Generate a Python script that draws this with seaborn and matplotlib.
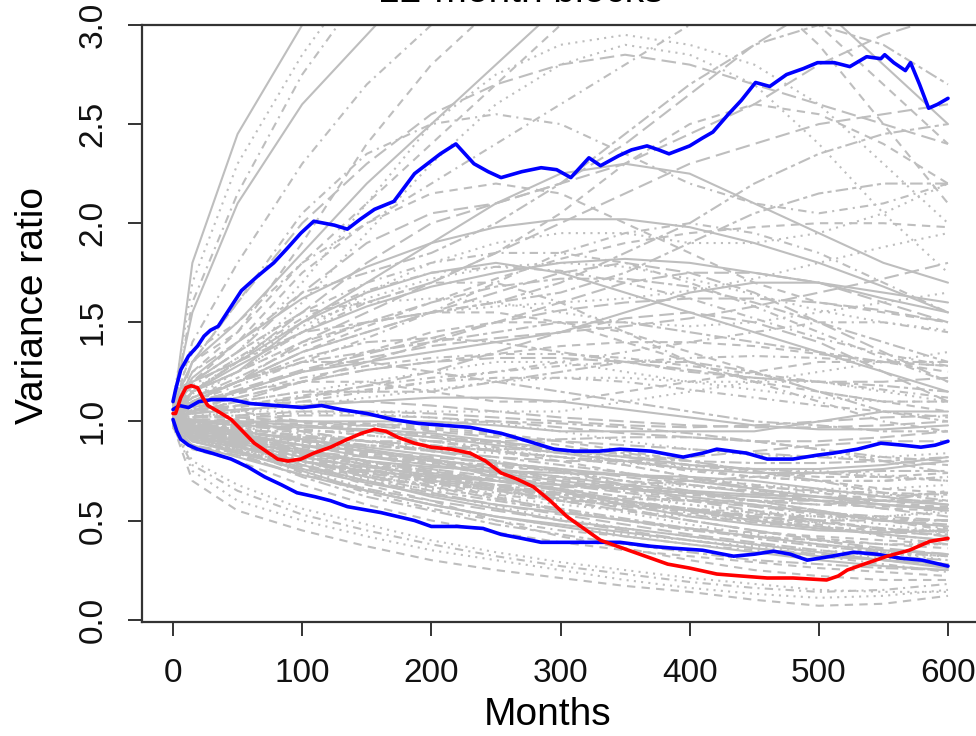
import matplotlib
matplotlib.use("Agg")
import matplotlib.pyplot as plt
import seaborn as sns
import pandas as pd

sns.set_theme(style="white")
plt.rcParams["font.family"] = ["Liberation Sans", "DejaVu Sans"]

# ---------------- data ----------------
title = "12-month blocks"
x_label = "Months"
y_label = "Variance ratio"
x_ticks = [0, 100, 200, 300, 400, 500, 600]
y_ticks = [0.0, 0.5, 1.0, 1.5, 2.0, 2.5, 3.0]
y_tick_labels = ["0.0", "0.5", "1.0", "1.5", "2.0", "2.5", "3.0"]

# simulated paths (gray), values at these months
grid_months = [0, 15, 50, 100, 150, 200, 250, 300, 350, 400, 450, 500, 550, 600]

upper_paths = [
    [1.05, 1.8, 2.45, 3.0, 3.4, 3.5, 3.5, 3.5, 3.5, 3.5, 3.5, 3.5, 3.5, 3.5],
    [1.08, 1.3, 1.45, 1.9, 2.4, 2.8, 3.1, 3.3, 3.4, 3.3, 3.2, 3.0, 2.7, 2.4],
    [1.02, 1.2, 1.35, 1.7, 2.1, 2.5, 2.75, 2.9, 2.95, 2.9, 2.8, 2.6, 2.3, 2.0],
    [1.1, 1.35, 1.5, 1.8, 2.0, 2.2, 2.4, 2.6, 2.8, 3.0, 3.2, 3.3, 3.3, 3.2],
    [1.0, 1.15, 1.3, 1.55, 1.8, 2.0, 2.1, 2.2, 2.3, 2.45, 2.6, 2.8, 2.95, 3.05],
    [1.06, 1.25, 1.4, 1.65, 1.75, 1.85, 2.0, 2.2, 2.45, 2.7, 2.9, 3.0, 2.9, 2.7],
    [1.03, 1.15, 1.25, 1.5, 1.7, 1.9, 2.1, 2.25, 2.3, 2.25, 2.1, 1.95, 1.8, 1.7],
    [1.04, 1.2, 1.35, 1.55, 1.6, 1.7, 1.85, 2.05, 2.3, 2.5, 2.6, 2.55, 2.4, 2.2],
    [1.0, 1.15, 1.3, 1.6, 1.95, 2.3, 2.6, 2.8, 2.9, 2.85, 2.7, 2.4, 2.05, 1.75],
    [1.07, 1.3, 1.6, 2.05, 2.35, 2.5, 2.55, 2.5, 2.35, 2.2, 2.1, 2.05, 2.1, 2.2],
    [1.02, 1.1, 1.2, 1.4, 1.55, 1.7, 1.85, 2.0, 2.15, 2.3, 2.4, 2.5, 2.55, 2.6],
    [1.05, 1.15, 1.3, 1.45, 1.5, 1.55, 1.6, 1.7, 1.85, 2.0, 2.2, 2.35, 2.45, 2.5],
    [1.09, 1.55, 2.1, 2.6, 2.95, 3.3, 3.5, 3.5, 3.5, 3.5, 3.5, 3.5, 3.5, 3.5],
    [1.03, 1.2, 1.4, 1.75, 2.0, 2.15, 2.2, 2.15, 2.0, 1.85, 1.7, 1.6, 1.55, 1.5],
    [1.01, 1.12, 1.25, 1.45, 1.65, 1.8, 1.9, 1.95, 1.95, 1.9, 1.9, 1.95, 2.05, 2.2],
    [1.06, 1.6, 2.15, 2.75, 3.2, 3.5, 3.5, 3.5, 3.5, 3.5, 3.5, 3.5, 3.5, 3.5],
    [1.04, 1.2, 1.35, 1.65, 1.9, 2.05, 2.1, 2.2, 2.4, 2.65, 2.9, 3.1, 3.2, 3.2],
    [1.0, 1.1, 1.2, 1.35, 1.45, 1.55, 1.6, 1.65, 1.75, 1.9, 2.05, 2.15, 2.2, 2.2],
    [1.08, 1.3, 1.5, 1.85, 2.2, 2.5, 2.8, 3.1, 3.3, 3.4, 3.3, 3.1, 2.8, 2.5],
    [1.05, 1.25, 1.45, 1.8, 2.1, 2.4, 2.7, 3.0, 3.2, 3.3, 3.2, 2.9, 2.5, 2.1],
    [1.1, 1.7, 2.3, 2.85, 3.3, 3.5, 3.5, 3.5, 3.5, 3.5, 3.5, 3.5, 3.5, 3.5],
    [1.04, 1.4, 1.8, 2.3, 2.7, 3.0, 3.2, 3.3, 3.4, 3.5, 3.5, 3.5, 3.5, 3.5],
    [1.02, 1.3, 1.6, 2.0, 2.3, 2.55, 2.7, 2.8, 2.85, 2.8, 2.7, 2.6, 2.5, 2.4],
]

middle_paths = [
    [1.02, 1.1, 1.2, 1.3, 1.35, 1.4, 1.45, 1.5, 1.5, 1.45, 1.4, 1.35, 1.3, 1.3],
    [1.0, 1.08, 1.15, 1.25, 1.3, 1.35, 1.4, 1.45, 1.55, 1.65, 1.7, 1.7, 1.65, 1.6],
    [1.05, 1.15, 1.25, 1.4, 1.5, 1.55, 1.55, 1.5, 1.4, 1.3, 1.2, 1.15, 1.1, 1.1],
    [1.03, 1.06, 1.1, 1.15, 1.2, 1.25, 1.3, 1.3, 1.25, 1.2, 1.2, 1.25, 1.3, 1.35],
    [0.98, 1.02, 1.05, 1.1, 1.15, 1.2, 1.25, 1.3, 1.35, 1.4, 1.45, 1.5, 1.5, 1.45],
    [1.04, 1.12, 1.2, 1.35, 1.45, 1.55, 1.65, 1.75, 1.8, 1.75, 1.65, 1.5, 1.35, 1.2],
    [1.0, 1.05, 1.1, 1.15, 1.15, 1.15, 1.2, 1.25, 1.3, 1.3, 1.25, 1.15, 1.05, 1.0],
    [1.06, 1.2, 1.3, 1.5, 1.65, 1.75, 1.8, 1.75, 1.65, 1.55, 1.45, 1.35, 1.25, 1.15],
    [1.02, 1.1, 1.15, 1.2, 1.2, 1.15, 1.1, 1.1, 1.15, 1.2, 1.25, 1.3, 1.3, 1.25],
    [0.99, 1.02, 1.05, 1.05, 1.05, 1.05, 1.05, 1.05, 1.1, 1.15, 1.2, 1.2, 1.15, 1.1],
    [1.03, 1.15, 1.25, 1.45, 1.6, 1.7, 1.7, 1.6, 1.45, 1.3, 1.2, 1.1, 1.0, 0.95],
    [1.01, 1.05, 1.1, 1.2, 1.3, 1.4, 1.5, 1.6, 1.7, 1.75, 1.75, 1.7, 1.6, 1.5],
    [1.05, 1.12, 1.2, 1.3, 1.3, 1.25, 1.2, 1.15, 1.1, 1.05, 1.0, 0.98, 0.95, 0.95],
    [1.0, 1.0, 1.0, 1.0, 1.0, 1.0, 0.98, 0.95, 0.95, 0.95, 0.95, 1.0, 1.05, 1.05],
    [1.04, 1.1, 1.15, 1.25, 1.35, 1.45, 1.5, 1.5, 1.45, 1.35, 1.25, 1.15, 1.1, 1.05],
    [1.03, 1.18, 1.32, 1.5, 1.6, 1.62, 1.6, 1.55, 1.5, 1.48, 1.5, 1.55, 1.6, 1.65],
    [1.01, 1.1, 1.18, 1.3, 1.42, 1.55, 1.7, 1.85, 1.95, 2.0, 1.95, 1.85, 1.7, 1.55],
    [0.99, 1.04, 1.08, 1.12, 1.18, 1.25, 1.35, 1.45, 1.52, 1.55, 1.5, 1.4, 1.25, 1.1],
]

band_paths = [
    [1.02, 1.12, 1.22, 1.38, 1.5, 1.6, 1.68, 1.72, 1.72, 1.68, 1.6, 1.5, 1.4, 1.3],
    [1.04, 1.15, 1.28, 1.45, 1.58, 1.68, 1.75, 1.8, 1.82, 1.8, 1.75, 1.7, 1.62, 1.55],
    [1.0, 1.1, 1.2, 1.35, 1.48, 1.6, 1.72, 1.82, 1.9, 1.95, 1.98, 2.0, 2.0, 1.98],
    [1.03, 1.14, 1.25, 1.4, 1.5, 1.55, 1.58, 1.6, 1.62, 1.66, 1.72, 1.8, 1.88, 1.95],
    [1.05, 1.2, 1.35, 1.55, 1.7, 1.8, 1.85, 1.85, 1.8, 1.7, 1.58, 1.45, 1.32, 1.2],
    [1.01, 1.08, 1.15, 1.25, 1.32, 1.38, 1.42, 1.45, 1.48, 1.52, 1.58, 1.65, 1.72, 1.8],
    [1.02, 1.1, 1.2, 1.32, 1.4, 1.42, 1.4, 1.35, 1.3, 1.25, 1.22, 1.2, 1.18, 1.15],
    [1.06, 1.22, 1.4, 1.62, 1.78, 1.9, 1.98, 2.02, 2.02, 1.98, 1.9, 1.8, 1.68, 1.55],
    [1.0, 1.06, 1.12, 1.2, 1.26, 1.3, 1.34, 1.38, 1.4, 1.4, 1.38, 1.34, 1.3, 1.28],
    [1.03, 1.16, 1.3, 1.48, 1.62, 1.72, 1.78, 1.8, 1.78, 1.72, 1.64, 1.56, 1.5, 1.46],
    [1.04, 1.18, 1.32, 1.52, 1.66, 1.75, 1.78, 1.76, 1.7, 1.62, 1.52, 1.42, 1.34, 1.28],
    [1.02, 1.09, 1.16, 1.26, 1.34, 1.42, 1.5, 1.56, 1.6, 1.62, 1.62, 1.6, 1.56, 1.5],
]

central_paths = [
    [1.0, 0.96, 0.93, 0.9, 0.88, 0.85, 0.82, 0.78, 0.74, 0.7, 0.67, 0.65, 0.64, 0.63],
    [1.02, 1.0, 0.98, 0.97, 0.96, 0.94, 0.9, 0.86, 0.82, 0.78, 0.76, 0.76, 0.78, 0.82],
    [0.99, 0.95, 0.92, 0.88, 0.84, 0.8, 0.77, 0.75, 0.73, 0.71, 0.68, 0.64, 0.6, 0.56],
    [1.01, 0.97, 0.94, 0.89, 0.85, 0.81, 0.76, 0.7, 0.64, 0.58, 0.54, 0.52, 0.52, 0.54],
    [1.0, 0.93, 0.89, 0.83, 0.78, 0.74, 0.71, 0.68, 0.65, 0.61, 0.57, 0.53, 0.5, 0.5],
    [1.03, 1.02, 1.02, 1.03, 1.03, 1.02, 1.0, 0.97, 0.94, 0.92, 0.9, 0.9, 0.92, 0.95],
    [1.0, 0.98, 0.97, 0.97, 0.98, 0.99, 1.0, 0.99, 0.97, 0.94, 0.9, 0.86, 0.82, 0.8],
    [1.02, 1.04, 1.06, 1.08, 1.1, 1.12, 1.12, 1.1, 1.06, 1.02, 0.98, 0.96, 0.96, 0.98],
    [0.98, 0.94, 0.91, 0.87, 0.83, 0.79, 0.75, 0.71, 0.67, 0.63, 0.6, 0.58, 0.57, 0.57],
    [1.01, 0.99, 0.98, 0.96, 0.93, 0.9, 0.86, 0.82, 0.79, 0.77, 0.76, 0.75, 0.73, 0.7],
    [1.0, 0.95, 0.91, 0.85, 0.79, 0.73, 0.67, 0.62, 0.58, 0.55, 0.53, 0.52, 0.51, 0.5],
    [1.04, 1.06, 1.08, 1.1, 1.1, 1.08, 1.05, 1.02, 1.0, 0.98, 0.97, 0.97, 0.98, 1.0],
    [0.99, 0.93, 0.89, 0.82, 0.76, 0.71, 0.67, 0.63, 0.59, 0.55, 0.51, 0.47, 0.43, 0.4],
    [1.0, 0.97, 0.95, 0.91, 0.87, 0.83, 0.79, 0.76, 0.73, 0.7, 0.66, 0.62, 0.58, 0.56],
    [1.02, 1.01, 1.01, 1.0, 0.99, 0.97, 0.94, 0.9, 0.85, 0.8, 0.75, 0.7, 0.66, 0.64],
    [1.01, 1.03, 1.05, 1.08, 1.12, 1.16, 1.2, 1.22, 1.22, 1.2, 1.16, 1.12, 1.1, 1.1],
    [1.0, 1.04, 1.07, 1.12, 1.16, 1.2, 1.22, 1.22, 1.2, 1.16, 1.12, 1.08, 1.05, 1.02],
    [1.03, 1.07, 1.12, 1.2, 1.26, 1.3, 1.32, 1.32, 1.3, 1.26, 1.22, 1.2, 1.2, 1.22],
    [0.99, 0.96, 0.94, 0.92, 0.9, 0.9, 0.9, 0.91, 0.92, 0.92, 0.9, 0.86, 0.8, 0.74],
    [1.0, 0.94, 0.9, 0.84, 0.8, 0.77, 0.75, 0.74, 0.73, 0.72, 0.7, 0.66, 0.62, 0.58],
    [0.98, 0.9, 0.85, 0.78, 0.72, 0.67, 0.63, 0.6, 0.58, 0.56, 0.54, 0.5, 0.46, 0.42],
    [1.01, 0.96, 0.92, 0.86, 0.8, 0.75, 0.7, 0.66, 0.62, 0.58, 0.55, 0.52, 0.48, 0.44],
    [1.02, 1.05, 1.08, 1.13, 1.18, 1.22, 1.25, 1.28, 1.3, 1.32, 1.33, 1.32, 1.3, 1.28],
    [1.0, 1.02, 1.03, 1.05, 1.05, 1.04, 1.02, 1.0, 0.98, 0.97, 0.98, 1.0, 1.02, 1.03],
    [0.99, 0.92, 0.87, 0.8, 0.74, 0.69, 0.65, 0.61, 0.57, 0.53, 0.49, 0.46, 0.44, 0.43],
    [1.01, 0.98, 0.95, 0.91, 0.86, 0.81, 0.76, 0.72, 0.68, 0.65, 0.63, 0.62, 0.6, 0.58],
    [1.0, 0.99, 0.99, 0.99, 0.98, 0.96, 0.93, 0.88, 0.83, 0.78, 0.74, 0.72, 0.72, 0.74],
    [0.98, 0.91, 0.86, 0.79, 0.73, 0.68, 0.64, 0.61, 0.58, 0.55, 0.52, 0.49, 0.46, 0.44],
    [1.03, 1.08, 1.14, 1.22, 1.28, 1.32, 1.34, 1.34, 1.32, 1.28, 1.24, 1.2, 1.16, 1.12],
    [1.0, 0.95, 0.92, 0.88, 0.85, 0.82, 0.79, 0.76, 0.72, 0.68, 0.64, 0.6, 0.56, 0.52],
    [1.02, 1.0, 0.99, 0.98, 0.96, 0.93, 0.89, 0.85, 0.82, 0.8, 0.79, 0.79, 0.8, 0.82],
    [0.99, 0.9, 0.84, 0.76, 0.69, 0.63, 0.58, 0.54, 0.5, 0.46, 0.42, 0.38, 0.35, 0.33],
    [1.0, 0.96, 0.93, 0.88, 0.83, 0.78, 0.73, 0.69, 0.66, 0.64, 0.62, 0.6, 0.58, 0.57],
    [1.01, 1.02, 1.03, 1.04, 1.04, 1.02, 0.99, 0.95, 0.9, 0.86, 0.83, 0.82, 0.82, 0.84],
    [1.0, 0.93, 0.88, 0.81, 0.75, 0.7, 0.66, 0.62, 0.58, 0.54, 0.5, 0.47, 0.45, 0.45],
    [0.99, 0.9, 0.85, 0.77, 0.7, 0.64, 0.58, 0.53, 0.48, 0.43, 0.39, 0.35, 0.32, 0.3],
    [1.0, 0.92, 0.87, 0.8, 0.73, 0.67, 0.61, 0.56, 0.51, 0.46, 0.41, 0.37, 0.34, 0.32],
    [0.98, 0.88, 0.82, 0.73, 0.65, 0.58, 0.52, 0.47, 0.42, 0.38, 0.34, 0.3, 0.27, 0.25],
    [1.01, 0.95, 0.91, 0.84, 0.78, 0.72, 0.66, 0.6, 0.55, 0.5, 0.45, 0.41, 0.38, 0.36],
    [0.99, 0.91, 0.86, 0.78, 0.71, 0.64, 0.57, 0.51, 0.46, 0.42, 0.38, 0.35, 0.33, 0.32],
]

lower_paths = [
    [1.0, 0.97, 0.95, 0.9, 0.85, 0.8, 0.75, 0.72, 0.7, 0.68, 0.65, 0.62, 0.6, 0.6],
    [1.01, 0.96, 0.92, 0.85, 0.8, 0.75, 0.7, 0.65, 0.6, 0.55, 0.52, 0.5, 0.5, 0.5],
    [0.99, 0.92, 0.88, 0.8, 0.72, 0.65, 0.6, 0.55, 0.5, 0.45, 0.42, 0.4, 0.38, 0.38],
    [1.0, 0.9, 0.85, 0.75, 0.65, 0.58, 0.52, 0.48, 0.44, 0.4, 0.36, 0.32, 0.3, 0.28],
    [1.02, 0.95, 0.9, 0.78, 0.68, 0.6, 0.5, 0.42, 0.36, 0.3, 0.25, 0.22, 0.2, 0.2],
    [0.98, 0.8, 0.68, 0.56, 0.48, 0.4, 0.34, 0.29, 0.25, 0.21, 0.18, 0.15, 0.14, 0.14],
    [1.0, 0.97, 0.95, 0.95, 0.95, 0.92, 0.9, 0.85, 0.8, 0.75, 0.72, 0.7, 0.7, 0.72],
    [1.03, 1.01, 1.0, 0.95, 0.9, 0.85, 0.82, 0.8, 0.8, 0.82, 0.85, 0.88, 0.9, 0.9],
    [0.99, 0.94, 0.9, 0.85, 0.82, 0.8, 0.78, 0.75, 0.7, 0.65, 0.6, 0.58, 0.6, 0.65],
    [1.0, 0.96, 0.93, 0.88, 0.85, 0.8, 0.72, 0.65, 0.58, 0.52, 0.48, 0.45, 0.44, 0.45],
    [1.01, 0.98, 0.96, 0.9, 0.83, 0.76, 0.7, 0.66, 0.62, 0.6, 0.58, 0.55, 0.5, 0.45],
    [0.98, 0.9, 0.86, 0.76, 0.7, 0.66, 0.62, 0.58, 0.55, 0.52, 0.5, 0.5, 0.52, 0.55],
    [1.0, 0.94, 0.9, 0.82, 0.75, 0.7, 0.65, 0.6, 0.55, 0.5, 0.45, 0.4, 0.35, 0.32],
    [1.02, 1.0, 0.98, 0.95, 0.9, 0.85, 0.8, 0.75, 0.68, 0.6, 0.55, 0.5, 0.45, 0.42],
    [0.97, 0.88, 0.84, 0.72, 0.62, 0.55, 0.48, 0.43, 0.38, 0.34, 0.3, 0.28, 0.26, 0.25],
    [1.0, 0.92, 0.88, 0.78, 0.7, 0.62, 0.56, 0.5, 0.46, 0.42, 0.38, 0.34, 0.3, 0.26],
    [1.04, 1.05, 1.05, 1.0, 0.95, 0.9, 0.85, 0.82, 0.78, 0.72, 0.66, 0.6, 0.56, 0.55],
    [1.01, 0.97, 0.95, 0.9, 0.88, 0.86, 0.84, 0.82, 0.78, 0.72, 0.68, 0.66, 0.66, 0.68],
    [0.99, 0.93, 0.9, 0.8, 0.72, 0.68, 0.66, 0.64, 0.6, 0.56, 0.52, 0.48, 0.42, 0.38],
    [1.0, 0.95, 0.92, 0.86, 0.8, 0.74, 0.68, 0.62, 0.56, 0.5, 0.45, 0.4, 0.36, 0.33],
    [1.02, 0.99, 0.97, 0.92, 0.88, 0.86, 0.86, 0.86, 0.84, 0.8, 0.75, 0.7, 0.64, 0.6],
    [0.98, 0.91, 0.87, 0.8, 0.75, 0.72, 0.7, 0.66, 0.6, 0.55, 0.5, 0.46, 0.43, 0.4],
    [1.0, 0.96, 0.94, 0.92, 0.9, 0.88, 0.85, 0.8, 0.74, 0.68, 0.64, 0.62, 0.62, 0.64],
    [1.01, 0.94, 0.9, 0.84, 0.78, 0.72, 0.66, 0.6, 0.54, 0.48, 0.43, 0.38, 0.34, 0.3],
    [0.99, 0.9, 0.86, 0.74, 0.64, 0.56, 0.5, 0.45, 0.42, 0.38, 0.35, 0.32, 0.28, 0.24],
    [1.03, 1.03, 1.02, 1.0, 0.98, 0.95, 0.92, 0.9, 0.88, 0.86, 0.84, 0.82, 0.8, 0.78],
    [1.0, 0.98, 0.96, 0.93, 0.9, 0.88, 0.85, 0.82, 0.8, 0.78, 0.76, 0.74, 0.72, 0.7],
    [0.98, 0.92, 0.89, 0.82, 0.77, 0.73, 0.7, 0.68, 0.66, 0.64, 0.62, 0.6, 0.58, 0.55],
    [1.01, 0.96, 0.93, 0.85, 0.78, 0.7, 0.62, 0.55, 0.5, 0.46, 0.44, 0.42, 0.4, 0.38],
    [1.0, 0.9, 0.87, 0.76, 0.66, 0.58, 0.52, 0.47, 0.43, 0.4, 0.37, 0.34, 0.31, 0.28],
    [1.02, 1.0, 0.99, 0.96, 0.93, 0.9, 0.87, 0.84, 0.8, 0.76, 0.72, 0.7, 0.7, 0.72],
    [0.97, 0.87, 0.83, 0.73, 0.66, 0.6, 0.55, 0.5, 0.45, 0.4, 0.36, 0.33, 0.3, 0.27],
    [1.0, 0.94, 0.91, 0.83, 0.76, 0.7, 0.66, 0.63, 0.61, 0.6, 0.6, 0.6, 0.6, 0.6],
    [1.01, 0.97, 0.94, 0.88, 0.82, 0.78, 0.74, 0.7, 0.66, 0.62, 0.58, 0.54, 0.5, 0.47],
    [0.99, 0.86, 0.8, 0.68, 0.58, 0.5, 0.44, 0.39, 0.35, 0.32, 0.29, 0.26, 0.24, 0.22],
    [1.0, 0.98, 0.97, 0.94, 0.9, 0.86, 0.8, 0.74, 0.7, 0.67, 0.65, 0.64, 0.63, 0.62],
    [1.02, 0.99, 0.96, 0.9, 0.85, 0.8, 0.76, 0.72, 0.68, 0.64, 0.6, 0.55, 0.5, 0.46],
    [0.98, 0.93, 0.9, 0.84, 0.8, 0.76, 0.72, 0.68, 0.64, 0.6, 0.57, 0.54, 0.52, 0.5],
    [1.0, 0.95, 0.92, 0.85, 0.78, 0.72, 0.68, 0.64, 0.6, 0.56, 0.52, 0.49, 0.46, 0.44],
    [1.01, 1.0, 1.0, 0.98, 0.95, 0.92, 0.88, 0.84, 0.8, 0.76, 0.74, 0.74, 0.76, 0.8],
    [0.98, 0.7, 0.55, 0.45, 0.37, 0.3, 0.25, 0.21, 0.17, 0.14, 0.1, 0.07, 0.08, 0.12],
    [0.99, 0.75, 0.6, 0.5, 0.42, 0.35, 0.3, 0.25, 0.2, 0.16, 0.13, 0.11, 0.12, 0.15],
    [0.97, 0.78, 0.65, 0.53, 0.45, 0.38, 0.32, 0.27, 0.23, 0.19, 0.16, 0.14, 0.15, 0.18],
    [1.0, 0.93, 0.88, 0.8, 0.74, 0.7, 0.68, 0.67, 0.66, 0.64, 0.6, 0.55, 0.5, 0.48],
    [1.02, 0.97, 0.93, 0.86, 0.8, 0.74, 0.7, 0.68, 0.68, 0.7, 0.72, 0.74, 0.75, 0.75],
]

# upper quantile (blue)
upper_m = [0, 2, 6, 12, 19, 24, 29, 35, 45, 53, 65, 78, 88, 99, 109, 117, 125, 135, 145, 156,
           171, 187, 197, 207, 219, 226, 233, 244, 254, 270, 285, 297, 308, 315, 322, 331, 345, 355, 367, 376,
           384, 400, 410, 418, 430, 440, 451, 462, 475, 488, 499, 512, 524, 537, 548, 551, 558, 567, 571, 578,
           585, 592, 600]
upper_v = [1.10, 1.16, 1.26, 1.33, 1.38, 1.43, 1.46, 1.48, 1.58, 1.66, 1.73, 1.80, 1.87, 1.95, 2.01, 2.00, 1.99, 1.97, 2.02, 2.07,
           2.11, 2.25, 2.30, 2.35, 2.40, 2.35, 2.30, 2.26, 2.23, 2.26, 2.28, 2.27, 2.23, 2.28, 2.33, 2.29, 2.34, 2.37, 2.39, 2.37,
           2.35, 2.39, 2.43, 2.46, 2.55, 2.62, 2.71, 2.69, 2.75, 2.78, 2.81, 2.81, 2.79, 2.84, 2.83, 2.85, 2.81, 2.77, 2.81, 2.70,
           2.58, 2.60, 2.63]

# median (blue)
median_m = [0, 5, 12, 20, 30, 45, 60, 80, 100, 115, 130, 150, 170, 190, 210, 230, 254, 275, 295, 310,
            330, 346, 370, 395, 410, 421, 444, 460, 480, 499, 511, 530, 548, 565, 579, 590, 600]
median_v = [1.06, 1.08, 1.07, 1.10, 1.11, 1.11, 1.09, 1.08, 1.07, 1.08, 1.06, 1.04, 1.01, 0.99, 0.98, 0.97, 0.94, 0.90, 0.86, 0.85,
            0.85, 0.86, 0.85, 0.82, 0.84, 0.86, 0.84, 0.81, 0.81, 0.83, 0.84, 0.86, 0.89, 0.88, 0.87, 0.88, 0.90]

# lower quantile (blue)
lower_m = [0, 3, 6, 12, 19, 30, 45, 58, 71, 84, 96, 110, 122, 135, 148, 161, 174, 187, 200, 220,
           240, 254, 270, 285, 300, 320, 346, 370, 388, 410, 434, 450, 465, 478, 491, 510, 527, 545, 563, 580, 600]
lower_v = [1.01, 0.95, 0.91, 0.88, 0.86, 0.84, 0.81, 0.77, 0.72, 0.68, 0.64, 0.62, 0.60, 0.57, 0.555, 0.54, 0.52, 0.50, 0.47, 0.47,
           0.46, 0.43, 0.41, 0.39, 0.39, 0.39, 0.39, 0.37, 0.36, 0.35, 0.32, 0.33, 0.345, 0.33, 0.30, 0.32, 0.34, 0.33, 0.31, 0.30, 0.27]

# actual (red)
actual_m = [0, 2, 6, 10, 14, 19, 23, 27, 35, 45, 54, 63, 72, 81, 89, 99, 109, 122, 135, 146,
            156, 165, 174, 187, 200, 215, 230, 242, 254, 266, 279, 292, 305, 318, 331, 344, 357, 370, 383, 400,
            421, 440, 460, 480, 506, 515, 522, 535, 553, 570, 586, 600]
actual_v = [1.04, 1.04, 1.12, 1.17, 1.18, 1.17, 1.12, 1.08, 1.05, 1.01, 0.95, 0.89, 0.85, 0.81, 0.80, 0.81, 0.84, 0.87, 0.91, 0.94,
            0.96, 0.95, 0.92, 0.89, 0.87, 0.86, 0.84, 0.80, 0.74, 0.71, 0.67, 0.60, 0.52, 0.46, 0.40, 0.37, 0.34, 0.31, 0.28, 0.26,
            0.23, 0.22, 0.21, 0.21, 0.20, 0.22, 0.25, 0.28, 0.32, 0.35, 0.395, 0.41]

# ---------------- build long table ----------------
rows = []
pid = 0
for group in (upper_paths, middle_paths, band_paths, central_paths, lower_paths):
    for path in group:
        for m, v in zip(grid_months, path):
            rows.append({"path": pid, "month": m, "ratio": v, "lty": pid % 6})
        pid += 1
gray_df = pd.DataFrame(rows)

dash_map = {0: "", 1: (4, 3), 2: (1, 2.5), 3: (1, 2.5, 4, 2.5), 4: (7, 3), 5: (2, 2, 6, 2)}

# ---------------- figure ----------------
W, H = 976, 736
fig = plt.figure(figsize=(W / 100, H / 100), dpi=100)
fig.patch.set_facecolor("white")
ax = fig.add_axes([142 / W, (H - 622) / H, (979 - 142) / W, (622 - 25) / H])
ax.set_facecolor("white")

sns.lineplot(data=gray_df, x="month", y="ratio", units="path", estimator=None,
             style="lty", dashes=dash_map, color="#BEBEBE", lw=1.5,
             legend=False, sort=False, ax=ax)

for mm, vv, col in ((upper_m, upper_v, "#0000FF"), (median_m, median_v, "#0000FF"),
                    (lower_m, lower_v, "#0000FF"), (actual_m, actual_v, "#FF0000")):
    sns.lineplot(x=mm, y=vv, color=col, lw=2.6, estimator=None, sort=False, ax=ax)

ax.set_xlim(-24, 624)
ax.set_ylim(-0.012, 3.0)
ax.set_xlabel("")
ax.set_ylabel("")
ax.set_xticks(x_ticks)
ax.set_xticklabels([str(t) for t in x_ticks])
ax.set_yticks(y_ticks)
ax.set_yticklabels(y_tick_labels, rotation=90, va="center")

tick_font = ["Liberation Sans Narrow", "Liberation Sans", "DejaVu Sans"]
for lab in ax.get_xticklabels() + ax.get_yticklabels():
    lab.set_fontfamily(tick_font)
    lab.set_fontsize(24)
    lab.set_color("#111111")

ax.tick_params(axis="both", direction="out", length=10, width=1.4, color="#333333",
               bottom=True, left=True)
ax.tick_params(axis="x", pad=16)
ax.tick_params(axis="y", pad=14)
for s in ax.spines.values():
    s.set_visible(True)
    s.set_color("#333333")
    s.set_linewidth(1.6)

fig.text(548 / W, 1 - 715 / H, x_label, ha="center", va="center", fontsize=28, color="black")
fig.text(33 / W, 1 - 305 / H, y_label, ha="center", va="center", rotation=90, fontsize=28, color="black")
fig.text(521 / W, 1 - 2 / H, title, ha="center", va="baseline", fontsize=28, color="black")

fig.savefig("out.png", dpi=100)
